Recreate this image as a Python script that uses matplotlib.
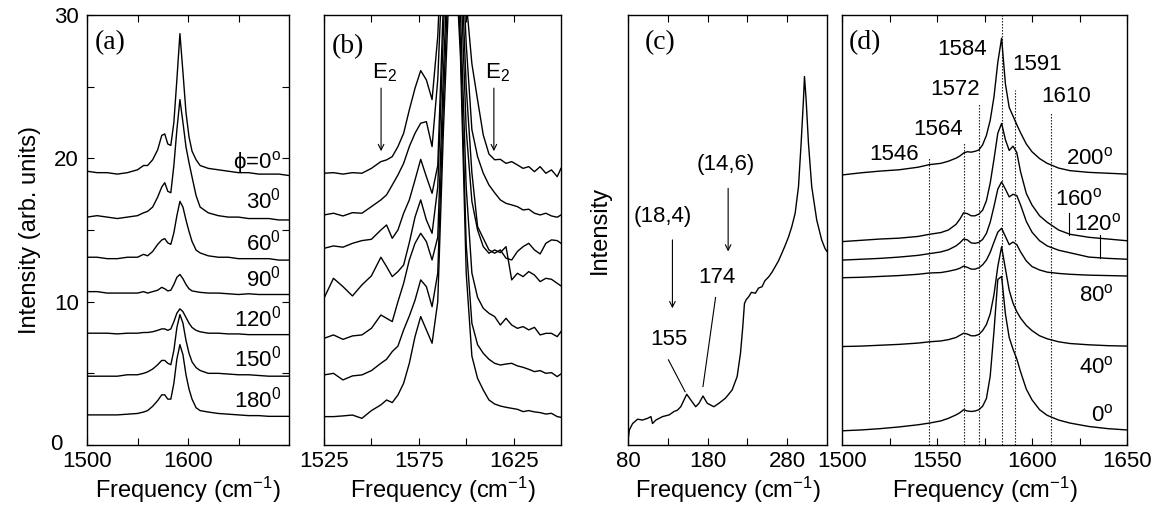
import matplotlib
matplotlib.use("Agg")
import matplotlib.pyplot as plt

plt.rcParams.update({
    "font.family": ["Liberation Sans", "DejaVu Sans"],
    "mathtext.fontset": "custom",
    "mathtext.rm": "Liberation Sans",
    "mathtext.it": "Liberation Sans:italic",
    "mathtext.bf": "Liberation Sans:bold",
    "axes.linewidth": 1.0,
})

# ---------------- panel (a) ----------------
a_freq = [1500, 1510, 1520, 1530, 1540, 1550, 1556, 1560, 1565, 1570, 1574, 1577, 1580, 1583,
          1586, 1589, 1592, 1595, 1598, 1601, 1604, 1608, 1612, 1620, 1630, 1640, 1650, 1660,
          1670, 1680, 1690, 1700]
a_0 = [19.1, 19.0, 19.0, 18.9, 19.0, 19.2, 19.5, 19.5, 19.9, 20.6, 21.6, 21.7, 21.0, 20.9,
       22.5, 25.5, 28.7, 26.0, 23.2, 21.5, 20.5, 19.9, 19.5, 19.3, 19.2, 19.1, 19.0, 19.0,
       18.9, 18.9, 18.9, 18.8]
a_30 = [15.9, 16.0, 15.9, 15.8, 15.9, 16.0, 16.2, 16.3, 16.6, 17.3, 18.0, 18.3, 17.7, 17.6,
        19.5, 22.0, 24.1, 22.5, 20.8, 19.7, 18.7, 17.4, 16.6, 16.2, 16.0, 15.9, 15.9, 15.8,
        15.8, 15.8, 15.7, 15.7]
a_60 = [13.1, 13.1, 13.0, 13.0, 13.1, 13.1, 13.3, 13.2, 13.5, 14.0, 14.3, 14.4, 14.1, 14.0,
        14.8, 16.0, 17.0, 16.6, 15.7, 14.9, 14.2, 13.6, 13.4, 13.2, 13.1, 13.1, 13.0, 13.0,
        13.0, 13.0, 12.9, 12.9]
a_90 = [10.7, 10.7, 10.6, 10.6, 10.6, 10.6, 10.7, 10.6, 10.7, 10.8, 11.0, 10.9, 10.75, 10.8,
        11.2, 11.7, 11.9, 11.6, 11.2, 10.9, 10.75, 10.7, 10.65, 10.6, 10.6, 10.55, 10.5, 10.55,
        10.5, 10.5, 10.5, 10.5]
a_120 = [7.8, 7.8, 7.8, 7.75, 7.8, 7.8, 7.85, 7.85, 7.9, 8.0, 8.1, 8.1, 8.0, 8.1,
         8.6, 9.2, 9.5, 9.3, 8.9, 8.5, 8.2, 8.0, 7.9, 7.8, 7.8, 7.75, 7.75, 7.7,
         7.7, 7.7, 7.7, 7.7]
a_150 = [4.8, 4.8, 4.8, 4.8, 4.9, 4.9, 5.0, 5.1, 5.3, 5.6, 5.9, 5.9, 5.7, 5.6,
         6.6, 8.2, 9.1, 8.5, 7.3, 6.4, 5.8, 5.4, 5.2, 5.0, 5.0, 4.95, 4.9, 4.9,
         4.85, 4.8, 4.8, 4.8]
a_180 = [2.1, 2.1, 2.1, 2.1, 2.15, 2.2, 2.3, 2.4, 2.7, 3.1, 3.5, 3.5, 3.2, 3.2,
         4.3, 6.0, 7.0, 6.3, 4.9, 3.9, 3.2, 2.6, 2.4, 2.3, 2.2, 2.15, 2.1, 2.05,
         2.05, 2.0, 2.0, 2.0]
a_series = [a_0, a_30, a_60, a_90, a_120, a_150, a_180]
a_labels = [r"ϕ=0$^{\mathrm{o}}$", r"30$^0$", r"60$^0$", r"90$^0$", r"120$^0$", r"150$^0$",
            r"180$^0$"]
a_label_y = [19.3, 16.5, 13.6, 11.05, 8.3, 5.5, 2.6]

# ---------------- panel (b) ----------------
b_freq = [1525, 1530, 1535, 1540, 1545, 1550, 1555, 1558, 1561, 1564, 1567, 1570, 1573, 1576,
          1579, 1582, 1585, 1588, 1591, 1594, 1597, 1600, 1603, 1606, 1609, 1612, 1615, 1618,
          1621, 1624, 1627, 1630, 1633, 1636, 1639, 1642, 1645, 1648, 1650]
b_1 = [18.96, 19.0, 18.9, 19.0, 18.96, 19.3, 19.77, 19.89, 20.12, 20.82, 21.75, 23.38, 24.89, 26.12,
       25.47, 24.1, 28.5, 38, 45, 46, 40, 31, 26.6, 24.07, 21.63, 20.3, 19.9, 19.93,
       19.65, 19.77, 19.54, 19.3, 19.42, 19.07, 19.42, 18.96, 19.19, 18.72, 19.3]
b_2 = [16.05, 16.17, 15.98, 16.21, 16.17, 16.63, 17.1, 17.45, 18.14, 18.84, 19.65, 20.82, 21.75, 22.45,
       22.56, 20.82, 25.5, 35, 42, 43, 37, 28, 22.0, 20.12, 18.96, 18.14, 17.6, 17.1,
       16.86, 16.75, 16.63, 16.4, 16.45, 16.17, 16.05, 16.17, 15.98, 15.89, 16.05]
b_3 = [13.72, 13.89, 13.8, 14.07, 14.26, 14.35, 15.0, 15.35, 14.42, 15.0, 16.17, 17.1, 18.49, 19.93,
       18.72, 17.56, 19.5, 31, 40, 41, 35, 25, 19.0, 15.24, 14.42, 13.61, 13.38, 13.61,
       13.03, 12.91, 13.5, 13.84, 14.07, 13.61, 13.33, 14.07, 14.31, 14.26, 14.07]
b_4 = [10.24, 11.63, 11.05, 10.4, 11.17, 11.8, 13.1, 12.45, 11.75, 12.1, 12.56, 14.12, 15.9, 17.1,
       15.7, 14.77, 18.0, 29, 38, 40, 33, 22, 17.0, 15.0, 13.84, 13.38, 13.61, 13.42,
       13.84, 11.52, 11.98, 11.75, 12.1, 11.86, 11.4, 11.63, 11.56, 11.28, 11.1]
b_5 = [7.44, 7.68, 7.37, 7.61, 7.68, 8.14, 9.07, 8.84, 8.61, 10.0, 11.28, 12.91, 14.07, 14.77,
       14.19, 12.91, 14.5, 26, 36, 38, 30, 18, 12.0, 10.3, 9.54, 9.19, 8.96, 8.37,
       8.84, 8.37, 8.14, 8.26, 8.03, 8.21, 7.68, 7.79, 7.79, 7.56, 7.91]
b_6 = [4.89, 5.0, 4.54, 4.82, 4.89, 5.19, 5.7, 5.98, 6.52, 6.9, 8.03, 9.0, 10.1, 11.52,
       11.05, 9.65, 12.0, 24, 34, 36, 28, 14, 8.5, 7.0, 6.4, 5.98, 5.7, 5.58,
       5.65, 5.7, 5.52, 5.42, 5.28, 5.12, 5.19, 5.0, 5.05, 4.77, 4.96]
b_7 = [1.98, 1.98, 2.03, 2.09, 1.86, 2.4, 2.8, 3.14, 2.96, 3.49, 4.31, 5.7, 7.56, 8.96,
       8.03, 7.1, 10.0, 22, 32, 35, 27, 12, 6.2, 4.65, 3.84, 3.14, 2.86, 2.72,
       2.63, 2.56, 2.49, 2.33, 2.4, 2.31, 2.26, 2.16, 2.21, 1.98, 1.93]
b_series = [b_1, b_2, b_3, b_4, b_5, b_6, b_7]

# ---------------- panel (c) ----------------
c_freq = [80, 81.7, 85.8, 92.1, 98.3, 104.6, 108.8, 110.8, 115, 123.3, 131.7, 137.9, 142.1, 146.3,
          150.4, 153.8, 158.8, 165, 169.2, 174.2, 179.6, 187.9, 194.2, 202.5, 210.8, 217.1, 221.3,
          224.2, 226.3, 228.5, 231.7, 235, 240, 244, 248.3, 252, 256.7, 261, 265, 269, 273.3, 277,
          281.7, 285.8, 290, 294.2, 297.5, 300.4, 301.7, 303.8, 306.7, 310.8, 317.1, 323.3, 327.5, 330]
c_int = [1.0, 3.5, 5.0, 6.0, 5.8, 6.2, 6.6, 5.0, 5.8, 6.6, 7.0, 7.8, 8.1, 8.9,
         10.5, 11.8, 10.5, 8.9, 9.7, 11.4, 9.7, 8.9, 9.7, 10.9, 12.8, 15.9, 21.3,
         27.5, 32.9, 33.8, 34.5, 35.5, 35.3, 36.5, 36.8, 38.2, 39.1, 40.2, 41.5, 42.8, 44.6, 46.2,
         48.4, 50.8, 53.9, 60.1, 70.2, 80.2, 85.7, 80.2, 70.2, 60.1, 52.3, 47.7, 45.7, 45.0]

# ---------------- panel (d) ----------------
d_freq = [1500, 1510, 1520, 1530, 1540, 1546, 1552, 1556, 1560, 1562, 1564, 1566, 1568, 1570,
          1572, 1574, 1576, 1578, 1580, 1582, 1584, 1586, 1588, 1590, 1592, 1594, 1597, 1600,
          1604, 1608, 1614, 1620, 1630, 1640, 1650]
d_200 = [62.8, 63.3, 63.7, 64.0, 64.6, 65.2, 65.5, 66.0, 66.7, 67.2, 67.9, 68.2, 68.1, 68.3,
         68.6, 69.8, 72.0, 75.5, 81.0, 89.0, 94.6, 84.0, 78.5, 76.5, 74.5, 72.6, 70.0, 68.2,
         66.6, 65.5, 64.4, 63.8, 63.4, 63.2, 63.0]
d_160 = [47.3, 47.6, 47.9, 48.1, 48.5, 49.0, 49.4, 50.0, 51.3, 52.5, 54.0, 53.8, 53.3, 53.3,
         53.7, 54.6, 56.8, 60.9, 66.5, 72.5, 74.8, 71.0, 68.5, 69.5, 68.0, 63.5, 58.5, 55.8,
         53.3, 51.8, 50.0, 49.0, 48.3, 47.9, 47.5]
d_120 = [43.0, 43.2, 43.4, 43.7, 44.1, 44.5, 44.9, 45.4, 46.3, 47.0, 47.9, 47.7, 47.0, 46.9,
         47.1, 47.8, 49.2, 51.8, 55.5, 59.5, 61.2, 59.5, 57.7, 58.3, 58.0, 55.8, 52.0, 49.5,
         47.5, 46.3, 45.3, 44.7, 43.7, 43.4, 43.2]
d_80 = [38.9, 39.0, 39.2, 39.4, 39.7, 40.0, 40.1, 40.4, 40.8, 41.1, 41.6, 41.3, 40.9, 40.9,
        41.2, 41.9, 43.0, 44.8, 47.2, 49.5, 50.4, 48.5, 46.6, 47.2, 46.6, 44.9, 42.8, 41.5,
        40.7, 40.2, 39.9, 39.7, 39.5, 39.4, 39.3]
d_40 = [22.9, 23.0, 23.2, 23.4, 23.7, 24.0, 24.2, 24.5, 25.0, 25.5, 26.0, 25.8, 25.4, 25.4,
        25.7, 26.6, 28.0, 30.5, 35.0, 41.5, 46.1, 41.0, 36.0, 33.0, 31.0, 29.5, 27.8, 26.6,
        25.4, 24.7, 24.0, 23.6, 23.3, 23.1, 23.0]
d_0 = [3.3, 3.5, 3.8, 4.2, 4.7, 5.1, 5.6, 6.2, 7.0, 7.5, 8.2, 7.9, 7.8, 7.9,
       8.2, 9.0, 10.8, 16.0, 26.5, 38.5, 39.2, 30.5, 25.0, 22.3, 20.0, 17.0, 13.0, 10.5,
       8.2, 6.9, 5.8, 5.1, 4.3, 3.8, 3.5]
d_series = [d_200, d_160, d_120, d_80, d_40, d_0]
d_labels = [r"200$^{\mathrm{o}}$", r"160$^{\mathrm{o}}$", r"120$^{\mathrm{o}}$",
            r"80$^{\mathrm{o}}$", r"40$^{\mathrm{o}}$", r"0$^{\mathrm{o}}$"]
d_label_y = [65.3, 55.8, 49.8, 33.3, 16.7, 5.4]
d_label_x = [1643, 1637, 1647, 1643, 1643, 1643]

dot_freq = [1546, 1564, 1572, 1584, 1591, 1610]
dot_top = [66.7, 70.3, 79.6, 100, 82.6, 77.1]
dot_label_x = [1527.4, 1550.4, 1559.5, 1563.0, 1602.9, 1617.8]
dot_label_y = [66.3, 72.1, 81.4, 90.7, 87.2, 79.8]

FS = 16
LW = 1.0

fig = plt.figure(figsize=(11.58, 5.19), dpi=100)
W, Hp = 1158.0, 519.0
bot = 1 - 445 / Hp
hgt = 430 / Hp
axa = fig.add_axes([87 / W, bot, 202 / W, hgt])
axb = fig.add_axes([324 / W, bot, 237 / W, hgt])
axc = fig.add_axes([628 / W, bot, 199 / W, hgt])
axd = fig.add_axes([842 / W, bot, 285 / W, hgt])

for ax in (axa, axb, axc, axd):
    ax.tick_params(which="both", direction="in", top=True, right=True, length=5,
                   width=0.8, labelsize=FS, pad=4)
    ax.set_xlabel(r"Frequency (cm$^{-1}$)", fontsize=17, labelpad=2)

# (a)
for s, lab, ly in zip(a_series, a_labels, a_label_y):
    axa.plot(a_freq, s, color="black", lw=LW)
    axa.text(1692, ly, lab, ha="right", va="baseline", fontsize=FS)
axa.set_xlim(1500, 1700)
axa.set_ylim(0, 30)
axa.set_xticks([1500, 1600])
axa.set_xticks([1550, 1650], minor=True)
axa.set_yticks([0, 10, 20, 30])
axa.set_yticklabels(["", "10", "20", "30"])
axa.set_yticks([5, 15, 25], minor=True)
axa.tick_params(axis="y", pad=6)
axa.text(-0.153, 0.0, "0", transform=axa.transAxes, ha="center", va="center", fontsize=FS)
axa.set_ylabel("Intensity (arb. units)", fontsize=17, labelpad=9)
axa.text(0.04, 0.965, "(a)", transform=axa.transAxes, ha="left", va="top",
         fontsize=20, family="Liberation Serif")

# (b)
for s in b_series:
    axb.plot(b_freq, s, color="black", lw=LW)
axb.set_xlim(1525, 1650)
axb.set_ylim(0, 30)
axb.set_xticks([1525, 1575, 1625])
axb.set_xticks([1550, 1600], minor=True)
axb.set_yticks([])
axb.text(0.034, 0.955, "(b)", transform=axb.transAxes, ha="left", va="top",
         fontsize=20, family="Liberation Serif")
for ex in (1557.1, 1616.6):
    axb.text(ex, 25.6, r"E$_2$", ha="center", va="baseline", fontsize=FS)
    axb.annotate("", xy=(ex - 2.0, 20.5), xytext=(ex - 2.0, 24.9),
                 arrowprops=dict(arrowstyle="->", lw=0.8, color="black",
                                 shrinkA=0, shrinkB=0, mutation_scale=10))

# (c)
axc.plot(c_freq, c_int, color="black", lw=LW)
axc.set_xlim(80, 330)
axc.set_ylim(0, 100)
axc.set_xticks([80, 180, 280])
axc.set_xticks([130, 230], minor=True)
axc.set_yticks([])
axc.set_ylabel("Intensity", fontsize=17, labelpad=12)
axc.text(0.085, 0.965, "(c)", transform=axc.transAxes, ha="left", va="top",
         fontsize=20, family="Liberation Serif")
axc.text(123.3, 51.9, "(18,4)", ha="center", va="baseline", fontsize=FS)
axc.annotate("", xy=(135.8, 31.8), xytext=(135.8, 47.7),
             arrowprops=dict(arrowstyle="->", lw=0.8, color="black",
                             shrinkA=0, shrinkB=0, mutation_scale=10))
axc.text(131.7, 23.3, "155", ha="center", va="baseline", fontsize=FS)
axc.plot([130.8, 151.7], [19.8, 12.4], color="black", lw=0.8)
axc.text(202.5, 64.0, "(14,6)", ha="center", va="baseline", fontsize=FS)
axc.annotate("", xy=(205.8, 45.0), xytext=(205.8, 59.7),
             arrowprops=dict(arrowstyle="->", lw=0.8, color="black",
                             shrinkA=0, shrinkB=0, mutation_scale=10))
axc.text(192.1, 37.6, "174", ha="center", va="baseline", fontsize=FS)
axc.plot([190.0, 174.2], [34.3, 13.6], color="black", lw=0.8)

# (d)
axd.set_xlim(1500, 1650)
axd.set_ylim(0, 100)
for fx, top in zip(dot_freq, dot_top):
    axd.plot([fx, fx], [0, top], color="black", lw=0.8, ls=(0, (1.2, 1.5)))
for s, lab, ly, lx in zip(d_series, d_labels, d_label_y, d_label_x):
    axd.plot(d_freq, s, color="black", lw=LW)
    axd.text(lx, ly, lab, ha="right", va="baseline", fontsize=FS)
for fx, lx, ly in zip(dot_freq, dot_label_x, dot_label_y):
    axd.text(lx, ly, str(fx), ha="center", va="baseline", fontsize=FS)
axd.plot([1619.6, 1619.6], [48.8, 53.9], color="black", lw=0.8)
axd.plot([1635.8, 1635.8], [43.4, 48.8], color="black", lw=0.8)
axd.set_xticks([1500, 1550, 1600, 1650])
axd.set_xticks([1525, 1575, 1625], minor=True)
axd.set_yticks([])
axd.text(0.025, 0.965, "(d)", transform=axd.transAxes, ha="left", va="top",
         fontsize=20, family="Liberation Serif")

fig.savefig("out.png", dpi=100)
